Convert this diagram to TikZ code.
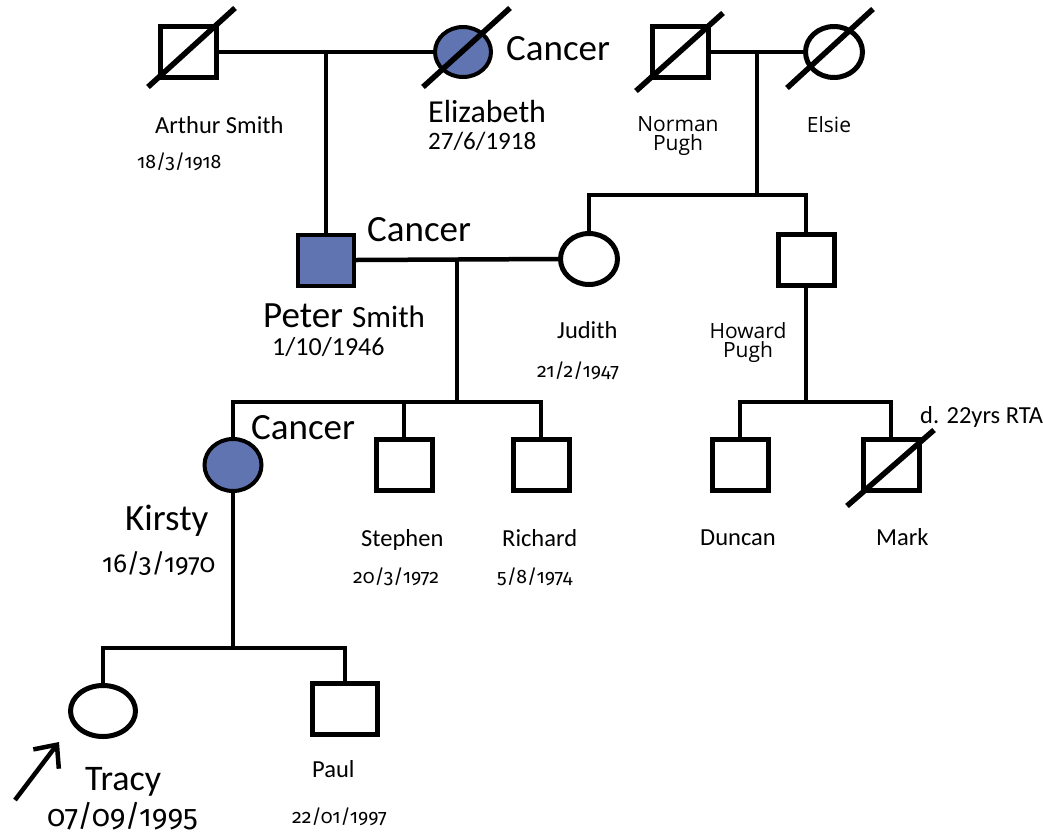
\documentclass[tikz,border=0pt]{standalone}
\usepackage{fontspec}
\setmainfont{Carlito}
\newfontfamily\oldstyle{Fira Sans}[Numbers={OldStyle,Proportional}]
\newfontfamily\opensans{Open Sans}
\usetikzlibrary{shapes.geometric,calc,arrows.meta}
\definecolor{pedblue}{RGB}{96,116,178}

\newcommand\fs[1]{\fontsize{#1}{#1}\selectfont}

\begin{document}
\begin{tikzpicture}[x=1pt,y=-1pt,
  male/.style={draw, rectangle, line width=5pt, minimum width=56pt, minimum height=51pt, inner sep=0pt},
  female/.style={draw, ellipse, line width=5pt, minimum width=56pt, minimum height=50pt, inner sep=0pt},
  affected/.style={fill=pedblue, line width=4pt},
  rel/.style={line width=4.5pt},
  strike/.style={line width=5.5pt},
  lbl/.style={inner sep=0pt, anchor=base west},
  pname/.style={lbl, font=\fs{24.5}},
  pdate/.style={lbl, font=\oldstyle\fs{19.5}},
  bigname/.style={lbl, font=\fs{37}},
  sanslbl/.style={inner sep=0pt, anchor=base, align=center, font=\opensans\fontsize{21}{19}\selectfont},
  probandarrow/.style={line width=4.5pt, arrows={-Straight Barb[length=18pt, width=32pt, line width=4.5pt]}}
]
\useasboundingbox (0,0) rectangle (1043,836);

% ---- generation I ----
\node[male] (arthur) at (188,52) {};
\node[female, affected] (elizabeth) at (463,52) {};
\node[male] (norman) at (680,52) {};
\node[female, minimum width=57pt, minimum height=51pt] (elsie) at (834,52) {};

% ---- generation II ----
\node[male, affected] (peter) at (326,260) {};
\node[female, minimum width=57pt, minimum height=51pt] (judith) at (589,259) {};
\node[male] (howard) at (806,260) {};

% ---- generation III ----
\node[female, affected, minimum width=57pt, minimum height=52pt] (kirsty) at (233,465) {};
\node[male] (stephen) at (404,465) {};
\node[male] (richard) at (541,465) {};
\node[male] (duncan) at (740,465) {};
\node[male] (mark) at (891,465) {};

% ---- generation IV ----
\node[female, minimum width=65pt, minimum height=51pt] (tracy) at (103,711) {};
\node[male, minimum width=65pt] (paul) at (345,709) {};

% deceased strokes
\draw[strike] ($(arthur)+(-40,35)$) -- ($(arthur)+(47,-44)$);
\draw[strike] ($(elizabeth)+(-40,35)$) -- ($(elizabeth)+(47,-44)$);
\draw[strike] ($(norman)+(-44,39)$) -- ($(norman)+(43,-39)$);
\draw[strike] ($(elsie)+(-47,36)$) -- ($(elsie)+(39,-43)$);
\draw[strike] ($(mark)+(-44,41)$) -- ($(mark)+(43,-35)$);

% helper levels for sibship lines
\coordinate (y195) at (0,195);
\coordinate (y402) at (0,402);
\coordinate (y648) at (0,648);

% Arthur + Elizabeth -> Peter
\draw[rel] (arthur.east) -- (elizabeth.west);
\coordinate (u1) at (peter.north |- arthur.east);
\draw[rel] (u1) -- (peter.north);

% Norman + Elsie -> Judith, Howard
\draw[rel] (norman.east) -- (elsie.west);
\coordinate (u2) at ($(norman.east)!0.5!(elsie.west)$);
\coordinate (sib2) at (u2 |- y195);
\draw[rel] (u2) -- (sib2);
\draw[rel] (judith.north) |- (sib2) -| (howard.north);

% Peter + Judith -> Kirsty, Stephen, Richard
\draw[rel] (peter.east) -- (judith.west);
\coordinate (u3) at ($(peter.east)!0.5!(judith.west)$);
\coordinate (sib3) at (u3 |- y402);
\draw[rel] (u3) -- (sib3);
\draw[rel] (kirsty.north) |- (sib3) -| (richard.north);
\draw[rel] (stephen.north) -- (stephen.north |- y402);

% Howard -> Duncan, Mark
\coordinate (sib4) at (howard.south |- y402);
\draw[rel] (howard.south) -- (sib4);
\draw[rel] (duncan.north) |- (sib4) -| (mark.north);

% Kirsty -> Tracy, Paul
\coordinate (sib5) at (kirsty.south |- y648);
\draw[rel] (kirsty.south) -- (sib5);
\draw[rel] (tracy.north) |- (sib5) -| (paul.north);

% proband arrow
\coordinate (ptail) at (15,800);
\coordinate (phead) at (59,742);
\draw[probandarrow] (ptail) -- (phead);

% ---- labels ----
\node[bigname] (c1) at (506,60) {Cancer};
\node[pname] (tArthur) at (155,133) {Arthur Smith};
\node[pdate] (dArthur) at (137,168) {18/3/1918};
\node[lbl, font=\fs{32}] (tElizabeth) at (428,122) {Elizabeth};
\node[lbl, font=\fs{25}] (dElizabeth) at (428,149) {27/6/1918};
\node[sanslbl] (tNorman) at (678,150) {Norman\\Pugh};
\node[sanslbl] (tElsie) at (829,132) {Elsie};

\node[bigname] (c2) at (367,241) {Cancer};
\node[bigname] (tPeter) at (263,327) {Peter};
\node[lbl, font=\fs{31}] (tSmith) at (352,327) {Smith};
\node[lbl, font=\fs{26}] (dPeter) at (272,355) {1/10/1946};
\node[pname] (tJudith) at (557,338) {Judith};
\node[pdate] (dJudith) at (537,377) {21/2/1947};
\node[sanslbl] (tHoward) at (748,357) {Howard\\Pugh};

\node[bigname] (c3) at (251,439) {Cancer};
\node[bigname] (tKirsty) at (125,530) {Kirsty};
\node[lbl, font=\oldstyle\fs{26}] (dKirsty) at (102,572) {16/3/1970};
\node[pname] (tStephen) at (361,546) {Stephen};
\node[pdate] (dStephen) at (353,583) {20/3/1972};
\node[pname] (tRichard) at (502,546) {Richard};
\node[pdate] (dRichard) at (497,583) {5/8/1974};
\node[pname] (tDuncan) at (700,545) {Duncan};
\node[pname] (tMark) at (876,545) {Mark};
\node[pname] (tRTA) at (920,423) {d. 22yrs RTA};

\node[lbl, font=\fs{36}] (tTracy) at (85,790) {Tracy};
\node[lbl, font=\oldstyle\fs{30}] (dTracy) at (47,826) {07/09/1995};
\node[pname] (tPaul) at (312,777) {Paul};
\node[pdate] (dPaul) at (292,823) {22/01/1997};
\end{tikzpicture}
\end{document}
